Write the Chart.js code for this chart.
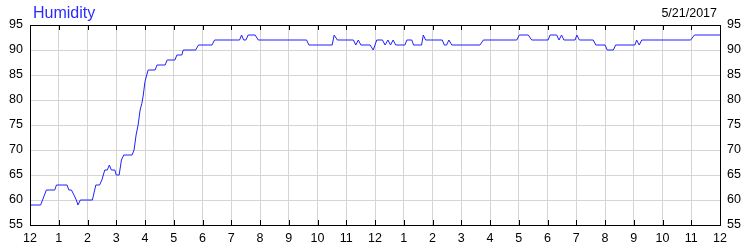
<!DOCTYPE html>
<html>
<head>
<meta charset="utf-8">
<title>Humidity</title>
<script src="https://cdn.jsdelivr.net/npm/chart.js@4/dist/chart.umd.min.js"></script>
<style>
  html, body { margin: 0; padding: 0; background: #fff; }
  #wrap { width: 750px; height: 250px; position: relative; }
</style>
</head>
<body>
<div id="wrap"><canvas id="humidityChart"></canvas></div>
<script>
// Dados (hora do dia, umidade %)
const hours = [0, 0.37, 0.57, 0.86, 0.92, 1.29, 1.35, 1.44, 1.53, 1.61, 1.67, 1.75,
  2.17, 2.29, 2.42, 2.50, 2.60, 2.69, 2.76, 2.83, 2.95, 3.00, 3.10, 3.18, 3.26,
  3.55, 3.62, 3.69, 3.76, 3.83, 3.89, 3.94, 4.00, 4.06, 4.11, 4.35, 4.42, 4.70,
  4.77, 5.04, 5.11, 5.28, 5.33, 5.76, 5.86, 6.33, 6.42, 7.29, 7.36, 7.43, 7.51,
  7.59, 7.83, 7.94, 9.62, 9.70, 10.51, 10.58, 10.69, 11.25, 11.33, 11.42, 11.51,
  11.83, 11.94, 12.06, 12.26, 12.35, 12.45, 12.54, 12.63, 12.72, 13.04, 13.11,
  13.28, 13.34, 13.62, 13.68, 13.76, 14.34, 14.41, 14.49, 14.57, 14.67, 15.65,
  15.77, 16.93, 17.02, 17.33, 17.45, 18.02, 18.09, 18.32, 18.40, 18.49, 18.57,
  18.96, 19.02, 19.11, 19.59, 19.68, 20.00, 20.08, 20.29, 20.37, 21.04, 21.10,
  21.19, 21.28, 22.98, 23.11, 24];
const humidity = [59, 59, 62, 62, 63, 63, 62, 62, 61, 60, 59, 60,
  60, 63, 63, 64, 66, 66, 67, 66, 66, 65, 65, 68, 69,
  69, 70, 73, 75, 78, 79.3, 81, 83.7, 85, 86, 86, 87, 87,
  88, 88, 89, 89, 90, 90, 91, 91, 92, 92, 93, 92, 92,
  93, 93, 92, 92, 91, 91, 93, 92, 92, 91, 92, 91,
  91, 90, 92, 92, 91, 92, 91, 92, 91, 91, 92,
  92, 91, 91, 93, 92, 92, 91, 91, 92, 91, 91,
  92, 92, 93, 93, 92, 92, 93, 93, 92, 93, 92,
  92, 93, 92, 92, 91, 91, 90, 90, 91, 91, 92,
  91, 92, 92, 93, 93];
const tickLabels = ['12', '1', '2', '3', '4', '5', '6', '7', '8', '9', '10', '11',
  '12', '1', '2', '3', '4', '5', '6', '7', '8', '9', '10', '11', '12'];
const chartTitle = 'Humidity';
const chartDate = '5/21/2017';

const fontFamily = "'Liberation Sans', Arial, sans-serif";

// Plugin: título, data, moldura e marcas internas no eixo X
const framePlugin = {
  id: 'frame',
  afterDraw(chart) {
    const { ctx, chartArea: a, scales } = chart;
    ctx.save();
    ctx.strokeStyle = '#000';
    ctx.lineWidth = 1;
    ctx.beginPath();
    scales.x.ticks.forEach(t => {
      const x = Math.round(scales.x.getPixelForValue(t.value)) + 0.5;
      ctx.moveTo(x, a.top); ctx.lineTo(x, a.top + 5);
      ctx.moveTo(x, a.bottom); ctx.lineTo(x, a.bottom - 5);
    });
    ctx.stroke();
    ctx.strokeRect(Math.round(a.left) + 0.5, Math.round(a.top) + 0.5,
      Math.round(a.right - a.left), Math.round(a.bottom - a.top));

    ctx.textBaseline = 'alphabetic';
    ctx.fillStyle = '#2b2bff';
    ctx.font = '16px ' + fontFamily;
    ctx.textAlign = 'left';
    ctx.fillText(chartTitle, 33, 18);
    ctx.fillStyle = '#000';
    ctx.font = '12.5px ' + fontFamily;
    ctx.textAlign = 'right';
    ctx.fillText(chartDate, 717, 17);
    ctx.restore();
  }
};

const ctx = document.getElementById('humidityChart').getContext('2d');
new Chart(ctx, {
  type: 'line',
  data: {
    datasets: [{
      data: hours.map((h, i) => ({ x: h, y: humidity[i] })),
      borderColor: '#2020ff',
      borderWidth: 1,
      pointRadius: 0,
      tension: 0,
      fill: false,
      yAxisID: 'y'
    }]
  },
  options: {
    responsive: true,
    maintainAspectRatio: false,
    animation: false,
    events: [],
    layout: { padding: { top: 25, left: 0, right: 0, bottom: 0 } },
    plugins: { legend: { display: false }, tooltip: { enabled: false } },
    scales: {
      x: {
        type: 'linear',
        min: 0,
        max: 24,
        afterFit: s => { s.height = 25; },
        grid: { color: '#d4d4d4', drawTicks: false },
        border: { display: false },
        ticks: {
          stepSize: 1,
          padding: 6,
          color: '#000',
          font: { family: fontFamily, size: 12.5 },
          maxRotation: 0,
          autoSkip: false,
          callback: (v, i) => tickLabels[i]
        }
      },
      y: {
        position: 'left',
        min: 55,
        max: 95,
        afterFit: s => { s.width = 30; },
        grid: { color: '#d4d4d4', drawTicks: false },
        border: { display: false },
        ticks: { stepSize: 5, padding: 7, color: '#000', font: { family: fontFamily, size: 12.5 } }
      },
      y2: {
        position: 'right',
        min: 55,
        max: 95,
        afterFit: s => { s.width = 30; },
        grid: { drawOnChartArea: false, drawTicks: false },
        border: { display: false },
        ticks: { stepSize: 5, padding: 7, color: '#000', font: { family: fontFamily, size: 12.5 } }
      }
    }
  },
  plugins: [framePlugin]
});
</script>
</body>
</html>
